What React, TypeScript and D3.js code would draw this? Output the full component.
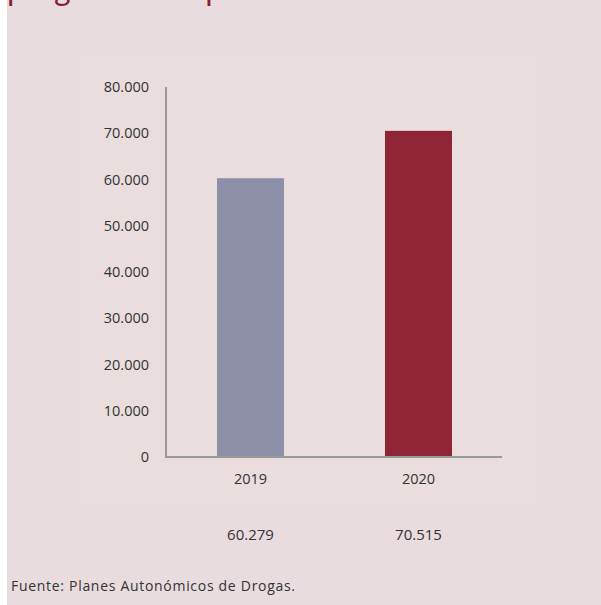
import React from "react";
import * as d3 from "d3";

const categories = ["2019", "2020"];
const values = [60279, 70515];
const valueLabels = ["60.279", "70.515"];
const yTicks = [0, 10000, 20000, 30000, 40000, 50000, 60000, 70000, 80000];
const barColors = ["#8d8fa9", "#8e2434"];
const title = "programas de prevención";
const source = "Fuente: Planes Autonómicos de Drogas.";

const fmt = (v: number) => (v === 0 ? "0" : d3.format(",")(v).replace(/,/g, "."));

export default function App() {
  const W = 601, H = 605;
  const x0 = 166, x1 = 502;
  const y = d3.scaleLinear().domain([0, 80000]).range([457, 87]);
  const centers = [250.5, 418.5];
  const bw = 67;
  const font = "'Open Sans', 'Noto Sans', sans-serif";
  return (
    <svg width={W} height={H} style={{ position: "absolute", left: 0, top: 0 }} fontFamily={font}>
      <rect x={7} y={0} width={W - 7} height={H} fill="#e9dcdf" />
      <rect x={80} y={53} width={458} height={454} fill="#e9dedd" />
      <text x={7} y={0} fontSize={32} fill="#8b1d3c" fontFamily="'Lato', sans-serif">{title}</text>
      {yTicks.map((t) => (
        <text key={t} x={149} y={y(t)} dy="0.35em" textAnchor="end" fontSize={14.5} fill="#333">
          {fmt(t)}
        </text>
      ))}
      {categories.map((c, i) => (
        <rect key={c} x={centers[i] - bw / 2} y={y(values[i])} width={bw} height={y(0) - y(values[i])} fill={barColors[i]} />
      ))}
      <line x1={x0} x2={x0} y1={y(80000)} y2={y(0) + 1} stroke="#9a9a9a" strokeWidth={2} />
      <line x1={x0} x2={x1} y1={y(0)} y2={y(0)} stroke="#9a9a9a" strokeWidth={2} />
      {categories.map((c, i) => (
        <text key={c} x={centers[i]} y={484} textAnchor="middle" fontSize={14.5} fill="#333">{c}</text>
      ))}
      {valueLabels.map((v, i) => (
        <text key={v} x={centers[i]} y={540} textAnchor="middle" fontSize={15} fill="#333">{v}</text>
      ))}
      <text x={11} y={591} fontSize={14} letterSpacing={0.7} fill="#333">{source}</text>
    </svg>
  );
}
